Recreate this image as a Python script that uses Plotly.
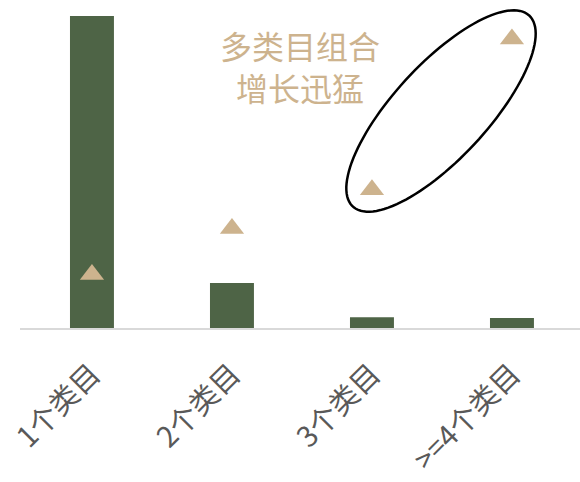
import numpy as np
import plotly.graph_objects as go

categories = ["1个类目", "2个类目", "3个类目", ">=4个类目"]
bar_values = [83.4, 12.0, 2.9, 2.7]
tri_values = [16.8, 31.3, 43.5, 90.9]
note_text = "多类目组合<br>增长迅猛"

W, H = 580, 482
ML, MR, MT, MB = 20, 0, 10, 154

fig = go.Figure()
fig.add_trace(go.Bar(x=categories, y=bar_values, marker_color="#4e6446",
                     marker_line_width=0, width=0.314, yaxis="y"))
fig.add_trace(go.Scatter(x=categories, y=tri_values, mode="markers",
                         marker=dict(symbol="triangle-up", size=21, color="#cdb38e"),
                         yaxis="y2"))

# ellipse outline (pixel geometry converted to paper coords)
cx, cy, a, b, th = 441, 111, 130, 47, np.deg2rad(47.3)
t = np.linspace(0, 2 * np.pi, 120)
px = cx + a * np.cos(t) * np.cos(th) + b * np.sin(t) * np.sin(th)
py = cy - a * np.cos(t) * np.sin(th) + b * np.sin(t) * np.cos(th)
pw, ph = W - ML - MR, H - MT - MB
xs = (px - ML) / pw
ys = (H - MB - py) / ph
path = "M " + " L ".join(f"{x:.4f},{y:.4f}" for x, y in zip(xs, ys)) + " Z"
fig.add_shape(type="path", path=path, xref="paper", yref="paper",
              line=dict(color="black", width=2.5))

fig.add_annotation(text=note_text, xref="paper", yref="paper",
                   x=(300 - ML) / pw, y=(H - MB - 66) / ph, showarrow=False,
                   font=dict(size=32, color="#cdb38e", family="Noto Sans CJK SC"),
                   align="center", xanchor="center", yanchor="middle")

fig.update_layout(
    width=W, height=H, margin=dict(l=ML, r=MR, t=MT, b=MB, autoexpand=False),
    paper_bgcolor="white", plot_bgcolor="white", showlegend=False,
    font=dict(family="Noto Sans CJK SC"),
    xaxis=dict(range=[-0.514, 3.486], showline=True, linecolor="#d9d9d9", linewidth=1.5,
               ticks="", tickangle=-45, tickfont=dict(size=29, color="#595959"),
               ticklabelstandoff=16, automargin=False,
               showgrid=False, zeroline=False),
    yaxis=dict(range=[0, 85], visible=False, showgrid=False, zeroline=False),
    yaxis2=dict(range=[0, 100], overlaying="y", visible=False, showgrid=False, zeroline=False),
)
fig.write_html("out.html", config={"displayModeBar": False},
               post_script="document.body.style.margin='0px';document.body.style.overflow='hidden';")
